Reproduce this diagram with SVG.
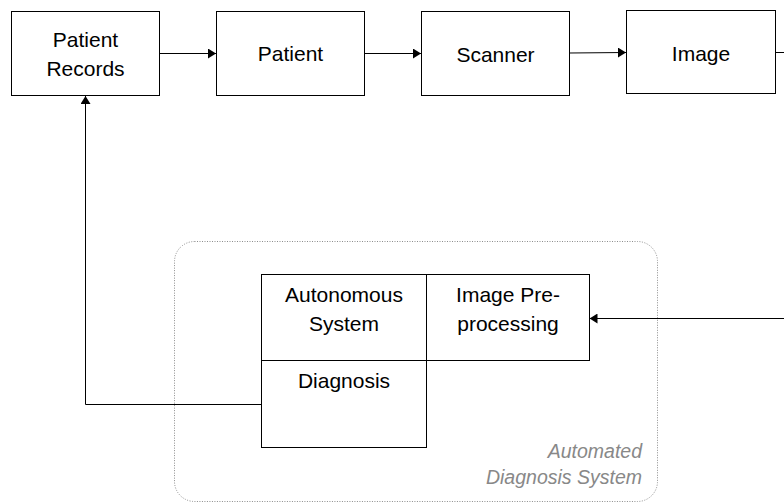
<svg xmlns="http://www.w3.org/2000/svg" width="784" height="503" viewBox="0 0 784 503">
  <style>
    .box { fill: #ffffff; stroke: #000000; stroke-width: 1; }
    .lbl { font-family: "Liberation Sans", Arial, sans-serif; font-size: 21px; fill: #000000; text-anchor: middle; }
    .edge { fill: none; stroke: #000000; stroke-width: 1; }
    .group { fill: none; stroke: #8c8c8c; stroke-width: 1; stroke-dasharray: 1 1.5; }
    .note { font-family: "Liberation Sans", Arial, sans-serif; font-size: 19.5px; font-style: italic; fill: #888888; text-anchor: end; }
  </style>
  <defs>
    <marker id="arrow" viewBox="0 0 8 10" refX="8" refY="5" markerWidth="8" markerHeight="10" markerUnits="userSpaceOnUse" orient="auto">
      <path d="M0,0 L8,5 L0,10 Z" fill="#000000"/>
    </marker>
  </defs>
  <rect width="784" height="503" fill="#ffffff"/>

  <!-- container for the automated system -->
  <g id="automated-diagnosis-system">
    <rect class="group" x="174.5" y="241.5" width="483" height="260" rx="20" ry="20"/>
    <text class="note" x="642" y="458">Automated</text>
    <text class="note" x="642" y="484">Diagnosis System</text>
  </g>

  <!-- connectors -->
  <g id="connectors">
    <path class="edge" d="M159,53.5 H216" marker-end="url(#arrow)"/>
    <path class="edge" d="M364,53.5 H421" marker-end="url(#arrow)"/>
    <path class="edge" d="M569,53 L626,52.5" marker-end="url(#arrow)"/>
    <path class="edge" d="M775,52.5 H784"/>
    <path class="edge" d="M784,318.5 H589.5" marker-end="url(#arrow)"/>
    <path class="edge" d="M261,404.5 H85.5 V96" marker-end="url(#arrow)"/>
  </g>

  <g id="patient-records">
    <rect class="box" x="11.5" y="11.5" width="148" height="84"/>
    <text class="lbl" x="85.5" y="47">Patient</text>
    <text class="lbl" x="85.5" y="76">Records</text>
  </g>

  <g id="patient">
    <rect class="box" x="216.5" y="11.5" width="148" height="84"/>
    <text class="lbl" x="290.5" y="61">Patient</text>
  </g>

  <g id="scanner">
    <rect class="box" x="421.5" y="11.5" width="148" height="84"/>
    <text class="lbl" x="495.5" y="61.5">Scanner</text>
  </g>

  <g id="image">
    <rect class="box" x="626.5" y="10.5" width="149" height="83"/>
    <text class="lbl" x="701" y="61">Image</text>
  </g>

  <g id="autonomous-system">
    <rect class="box" x="261.5" y="274.5" width="165" height="86"/>
    <text class="lbl" x="344" y="302">Autonomous</text>
    <text class="lbl" x="344" y="331">System</text>
  </g>

  <g id="image-preprocessing">
    <rect class="box" x="426.5" y="274.5" width="163" height="86"/>
    <text class="lbl" x="508" y="302">Image Pre-</text>
    <text class="lbl" x="508" y="331">processing</text>
  </g>

  <g id="diagnosis">
    <rect class="box" x="261.5" y="360.5" width="165" height="87"/>
    <text class="lbl" x="344" y="388">Diagnosis</text>
  </g>
</svg>
